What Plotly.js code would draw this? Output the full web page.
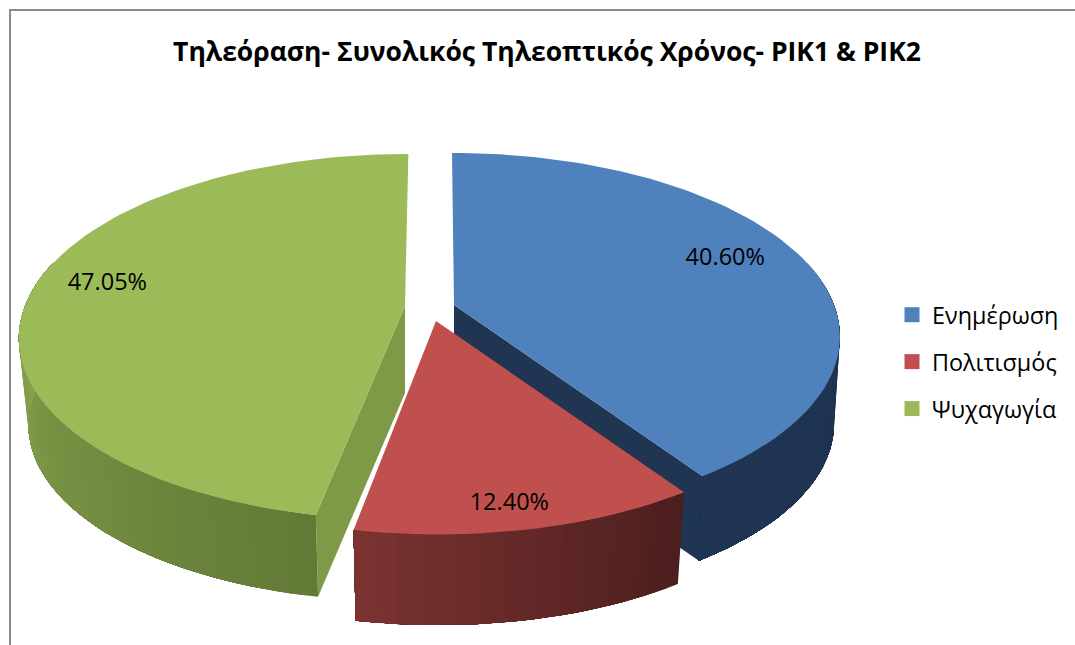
<!DOCTYPE html>
<html>
<head>
<meta charset="utf-8">
<script src="https://cdn.plot.ly/plotly-3.0.1.min.js"></script>
<style>html,body{margin:0;padding:0;background:#fff}#chart{width:1075px;height:645px}</style>
</head>
<body>
<div id="chart"></div>
<script>
// --- data ---
const categories = ["Ενημέρωση", "Πολιτισμός", "Ψυχαγωγία"];
const shares = [40.60, 12.40, 47.05];
const chartTitle = "Τηλεόραση- Συνολικός Τηλεοπτικός Χρόνος- ΡΙΚ1 & ΡΙΚ2";

// --- styles ---
const topColors = ["#4f81bd", "#c0504d", "#9bbb59"];
const wallLeft = [[31, 53, 83], [124, 52, 50], [142, 170, 82]];
const wallRight = [[29, 50, 78], [76, 30, 30], [98, 122, 54]];
const innerColors = ["#1f3552", "#5a2523", "#7f9a47"];

// --- projection of the tilted 3D pie onto the pixel-sized axes ---
const persp = {f: 380, g: 177.6, k: 0.168, steps: 200};
const slicePlace = [
  {ax: 454, ay: 305, depth: 87, bottomScale: 0.985, shear: 0.013, labelR: 0.8, lx: -8, ly: -6},
  {ax: 436, ay: 321, depth: 96, bottomScale: 0.975, shear: 0.01, labelR: 0.87, lx: -6, ly: 6},
  {ax: 405, ay: 306, depth: 87, bottomScale: 0.975, shear: -0.022, labelR: 0.8, lx: 1, ly: -9}
];
const DEG = Math.PI / 180;
function project(p, angle, r, lower) {
  const X = r * Math.sin(angle), Y = r * Math.cos(angle);
  const w = 1 + persp.k * Y;
  const s = lower ? p.bottomScale : 1;
  const dy = -persp.g * Y / w * s;
  return [p.ax + s * persp.f * X / w + p.shear * dy, p.ay + dy + (lower ? p.depth : 0)];
}
function polygon(points, color, name) {
  return {type: "scatter", mode: "lines", x: points.map(q => q[0]), y: points.map(q => q[1]),
    fill: "toself", fillcolor: color, line: {color: color, width: 0},
    hoverinfo: "skip", showlegend: false, name: name};
}
const total = shares.reduce((a, b) => a + b, 0);
const starts = [];
shares.reduce((acc, v, i) => { starts[i] = acc; return acc + v; }, 0);
const traces = [];
const labelX = [], labelY = [], labelText = [];
// paint order: blue at the back, then green, then red in front
[0, 2, 1].forEach(i => {
  const p = slicePlace[i];
  const a0 = starts[i] / total * 360 * DEG;
  const a1 = (starts[i] + shares[i]) / total * 360 * DEG;
  const n = Math.max(4, Math.round((a1 - a0) / (360 * DEG) * persp.steps));
  const arcA = [];
  for (let j = 0; j <= n; j++) arcA.push(a0 + (a1 - a0) * j / n);
  // the radial face cut by the slice's side that looks at the viewer
  const face = i === 0 ? a1 : (i === 2 ? a0 : null);
  if (face !== null) {
    traces.push(polygon([project(p, 0, 0, false), project(p, face, 1, false),
      project(p, face, 1, true), project(p, 0, 0, true)], innerColors[i], categories[i]));
  }
  // outer wall: each band runs to the far end and is overpainted by the next, so no seams show
  const front = arcA.filter(a => Math.cos(a) < 0.25);
  for (let j = 0; j < front.length - 1; j++) {
    const rest = front.slice(j);
    const ramp = 1 - j / (front.length - 1);
    const c = wallLeft[i].map((v, m) => Math.round(v + (wallRight[i][m] - v) * ramp));
    const pts = rest.map(a => project(p, a, 1, false))
      .concat(rest.slice().reverse().map(a => project(p, a, 1, true)));
    traces.push(polygon(pts, `rgb(${c.join(",")})`, categories[i]));
  }
  // top face
  const top = [project(p, 0, 0, false)].concat(arcA.map(a => project(p, a, 1, false)));
  traces.push(polygon(top, topColors[i], categories[i]));
  const mid = (a0 + a1) / 2;
  const lab = project(p, mid, p.labelR, false);
  labelX[i] = lab[0] + p.lx; labelY[i] = lab[1] + p.ly;
  labelText[i] = shares[i].toFixed(2) + "%";
});
traces.push({type: "scatter", mode: "text", x: labelX, y: labelY, text: labelText,
  textposition: "middle center", textfont: {family: "Open Sans, sans-serif", size: 23.5, color: "#000"},
  hoverinfo: "skip", showlegend: false});
// legend entries
categories.forEach((c, i) => traces.push({type: "scatter", mode: "markers", x: [null], y: [null], name: c,
  legendgroup: c, marker: {symbol: "square", size: 15, color: topColors[i]}, hoverinfo: "skip"}));

const layout = {
  width: 1075, height: 645, margin: {l: 0, r: 0, t: 0, b: 0},
  paper_bgcolor: "#fff", plot_bgcolor: "#fff",
  xaxis: {range: [0, 1075], visible: false, fixedrange: true},
  yaxis: {range: [645, 0], visible: false, fixedrange: true},
  title: {text: "<b>" + chartTitle + "</b>", x: 547 / 1075, xanchor: "center", y: 1 - 52 / 645, yanchor: "middle",
    font: {family: "Open Sans, sans-serif", size: 26.5, color: "#000"}},
  legend: {x: 892 / 1075, xanchor: "left", y: 1 - 293 / 645, yanchor: "top", traceorder: "grouped",
    tracegroupgap: 13.5, font: {family: "Open Sans, sans-serif", size: 23.4, color: "#000"}, bgcolor: "rgba(0,0,0,0)", itemwidth: 30},
  shapes: [{type: "rect", xref: "x", yref: "y", x0: 10, y0: 10, x1: 1085, y1: 655,
    line: {color: "#8c8c8c", width: 2}, fillcolor: "rgba(0,0,0,0)", layer: "below"}]
};
Plotly.newPlot("chart", traces, layout, {displayModeBar: false, staticPlot: true});
</script>
</body>
</html>
